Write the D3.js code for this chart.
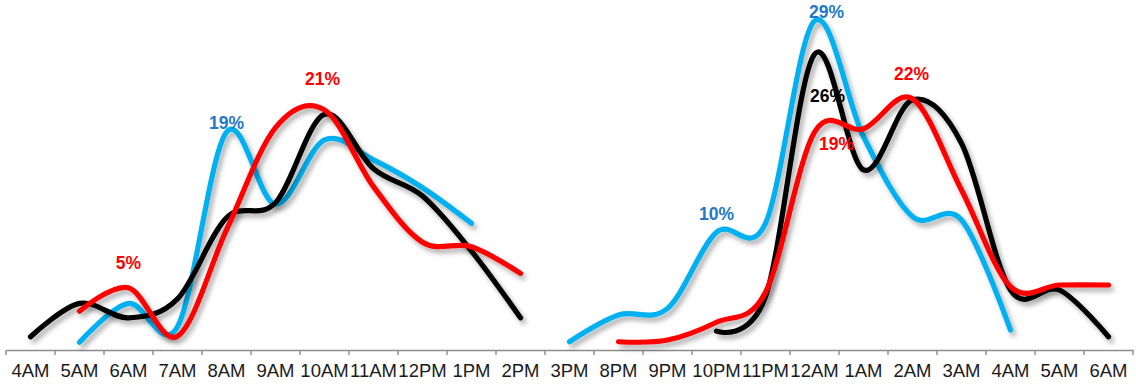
<!DOCTYPE html>
<html>
<head>
<meta charset="utf-8">
<script src="https://cdn.jsdelivr.net/npm/d3@7/dist/d3.min.js"></script>
<style>
  html, body { margin: 0; padding: 0; background: #ffffff; }
  svg { display: block; }
</style>
</head>
<body>
<svg id="chart" width="1136" height="386"></svg>
<script>
// Hour slots along the axis (two time windows side by side; some hour names repeat)
const categories = ["4AM","5AM","6AM","7AM","8AM","9AM","10AM","11AM","12PM","1PM","2PM",
                    "3PM","8PM","9PM","10PM","11PM","12AM","1AM","2AM","3AM","4AM","5AM","6AM"];

// Share of activity (%) per hour slot; null where a series has no reading
const blueSeries  = [null, 0.1, 3.6, 1.5, 19, 12.5, 18.3, 16.5, 14.0, 10.8, null,
                     0.15, 2.55, 3.15, 10, 10.8, 29, 18.6, 11.4, 11.1, 1.2, null, null];
const blackSeries = [0.6, 3.6, 2.3, 4.0, 11.3, 12.65, 20.6, 15.7, 13.25, 8.3, 2.3,
                     null, null, null, 1.1, 4.2, 26, 15.6, 21.9, 18.0, 4.8, 4.8, 0.6];
const redSeries   = [null, 2.9, 5, 0.65, 10.2, 19.4, 21, 14.1, 9.1, 8.7, 6.3,
                     null, 0.15, 0.3, 1.9, 4.6, 19, 19.3, 22, 13.8, 5.1, 5.25, 5.25];

// Value callouts: slot index, series array, text colour, offset from the point
const callouts = [
  { i: 4,  s: blueSeries,  color: "#1f78c8", dx: 0,  dy: -3 },
  { i: 14, s: blueSeries,  color: "#1f78c8", dx: 0,  dy: -12 },
  { i: 16, s: blueSeries,  color: "#1f78c8", dx: 12, dy: -3 },
  { i: 16, s: blackSeries, color: "#000000", dx: 13, dy: 48 },
  { i: 2,  s: redSeries,   color: "#ff0000", dx: 0,  dy: -19 },
  { i: 6,  s: redSeries,   color: "#ff0000", dx: -2, dy: -25 },
  { i: 16, s: redSeries,   color: "#ff0000", dx: 22, dy: 18 },
  { i: 18, s: redSeries,   color: "#ff0000", dx: -1, dy: -19 }
];

const svg = d3.select("#chart");
const idx = d3.range(categories.length);

const x = d3.scaleBand().domain(idx).range([6, 1133]).padding(0);
const cx = i => x(i) + x.bandwidth() / 2;
const y = d3.scaleLinear().domain([0, 30]).range([343.4, 9.8]);

// Soft drop shadow under each line
const defs = svg.append("defs");
const f = defs.append("filter").attr("id", "shadow")
  .attr("x", "-10%").attr("y", "-10%").attr("width", "120%").attr("height", "130%");
f.append("feDropShadow").attr("dx", 3).attr("dy", 4).attr("stdDeviation", 2.4)
  .attr("flood-color", "#000").attr("flood-opacity", 0.32);

// Axis
const axisY = 350;
const axisG = svg.append("g").attr("transform", `translate(0,${axisY})`);
axisG.call(d3.axisBottom(x).tickSize(0).tickPadding(14).tickFormat(i => categories[i]));
axisG.select(".domain").attr("stroke", "#8c8c8c").attr("stroke-width", 1.6);
axisG.selectAll(".tick text")
  .attr("font-family", "'Liberation Sans', Arial, sans-serif")
  .attr("font-size", 18.5)
  .attr("fill", "#1a1a1a");

// Tick marks on the band boundaries
const boundaries = idx.map(i => x(i)).concat([x(idx[idx.length - 1]) + x.bandwidth()]);
axisG.selectAll("line.bound").data(boundaries).join("line")
  .attr("class", "bound")
  .attr("x1", d => d).attr("x2", d => d)
  .attr("y1", 0).attr("y2", 5)
  .attr("stroke", "#8c8c8c").attr("stroke-width", 1.4);

// Smoothed lines
const line = d3.line()
  .defined(d => d.v != null)
  .x(d => cx(d.i))
  .y(d => y(d.v))
  .curve(d3.curveCardinal.tension(0));

const series = [
  { values: blueSeries,  color: "#00b0f0" },
  { values: blackSeries, color: "#000000" },
  { values: redSeries,   color: "#ff0000" }
];

svg.append("g").selectAll("path").data(series).join("path")
  .attr("d", s => line(idx.map(i => ({ i, v: s.values[i] }))))
  .attr("fill", "none")
  .attr("stroke", s => s.color)
  .attr("stroke-width", 5.2)
  .attr("stroke-linecap", "round")
  .attr("stroke-linejoin", "round")
  .attr("filter", "url(#shadow)");

// Callout text
svg.append("g").selectAll("text").data(callouts).join("text")
  .attr("x", d => cx(d.i) + d.dx)
  .attr("y", d => y(d.s[d.i]) + d.dy)
  .attr("text-anchor", "middle")
  .attr("font-family", "'Liberation Sans', Arial, sans-serif")
  .attr("font-weight", "bold")
  .attr("font-size", 17.5)
  .attr("fill", d => d.color)
  .text(d => d.s[d.i] + "%");
</script>
</body>
</html>
